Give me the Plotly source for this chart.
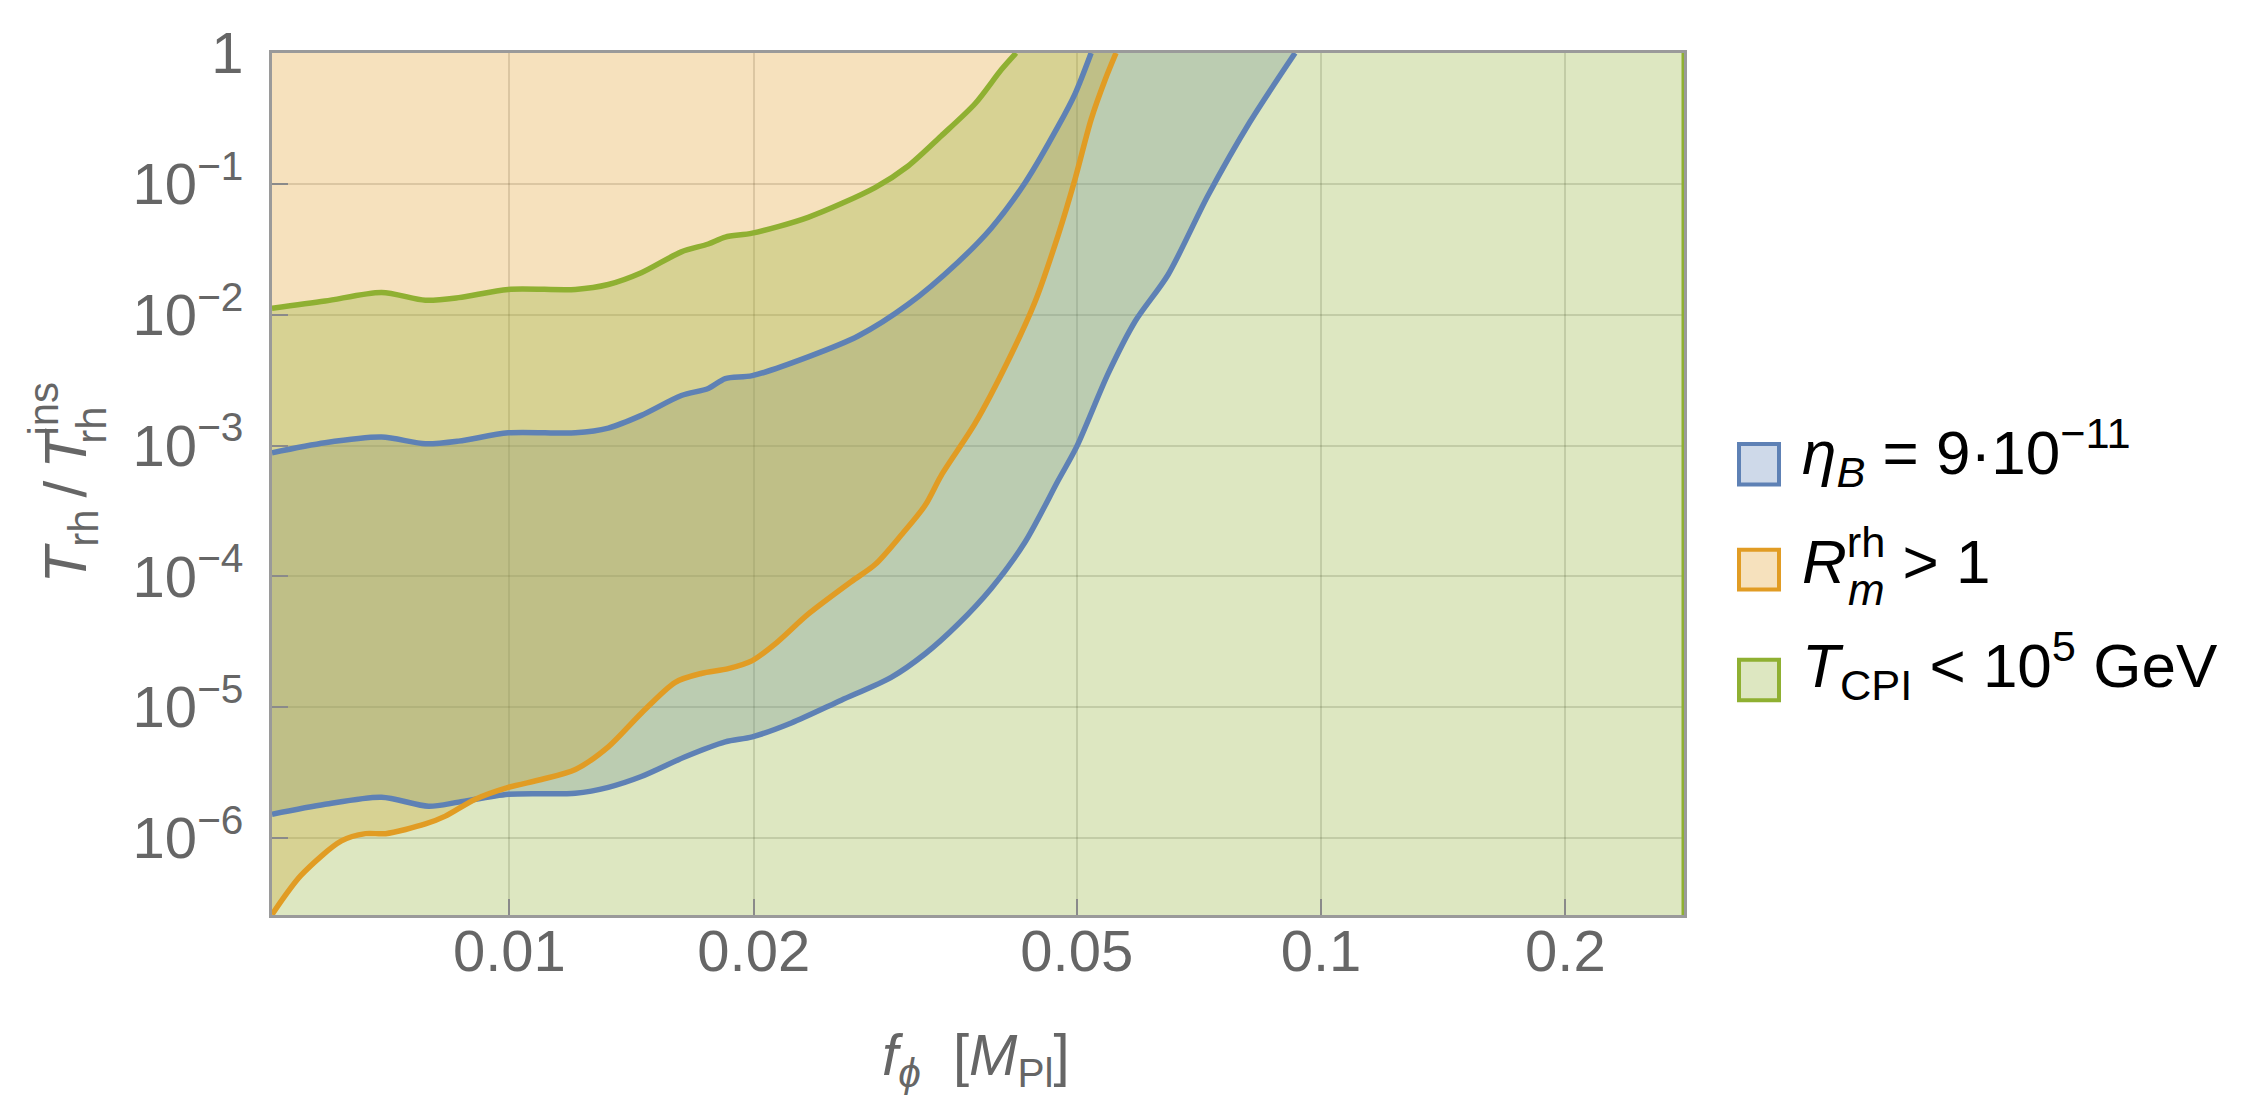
import math
import plotly.graph_objects as go

# ---------------- data ----------------
# T_CPI < 1e5 GeV boundary (green)
green_f = [0.0051, 0.00593, 0.00696, 0.00788, 0.00866, 0.00997, 0.01206, 0.01324, 0.01454,
           0.01629, 0.01758, 0.01845, 0.01992, 0.02334, 0.02822, 0.0310, 0.03404, 0.03749,
           0.04036, 0.0421]
green_T = [0.0112, 0.0127, 0.0148, 0.0129, 0.0135, 0.0156, 0.0156, 0.0170, 0.0209,
           0.0302, 0.0347, 0.0392, 0.0420, 0.0555, 0.0936, 0.137, 0.232, 0.411,
           0.744, 1.0]

# eta_B = 9e-11 band, upper edge (blue)
blue_up_f = [0.0051, 0.00593, 0.00696, 0.00788, 0.00866, 0.00997, 0.01206, 0.01324, 0.01454,
             0.01629, 0.01758, 0.01845, 0.01992, 0.02334, 0.0269, 0.0310, 0.03573, 0.03923,
             0.04319, 0.04744, 0.04978, 0.05209]
blue_up_T = [0.00088, 0.00105, 0.00116, 0.00103, 0.00108, 0.00125, 0.00125, 0.00136, 0.0017,
             0.00241, 0.00273, 0.00325, 0.00342, 0.00476, 0.00687, 0.0120, 0.0253, 0.0458,
             0.102, 0.276, 0.49, 1.0]

# eta_B = 9e-11 band, lower edge (blue)
blue_lo_f = [0.0051, 0.00593, 0.00696, 0.00795, 0.00866, 0.00997, 0.01206, 0.01324, 0.01454,
             0.01647, 0.01845, 0.01992, 0.02225, 0.02564, 0.02954, 0.03253, 0.03573, 0.03923,
             0.04319, 0.04744, 0.0500, 0.05466, 0.05902, 0.06479, 0.07256, 0.08175, 0.0929]
blue_lo_T = [1.52e-6, 1.81e-6, 2.05e-6, 1.75e-6, 1.88e-6, 2.16e-6, 2.20e-6, 2.44e-6, 2.95e-6,
             4.18e-6, 5.43e-6, 5.93e-6, 7.57e-6, 1.13e-5, 1.69e-5, 2.56e-5, 4.32e-5, 8.08e-5,
             1.83e-4, 5.4e-4, 9.8e-4, 3.54e-3, 8.9e-3, 0.0202, 0.0814, 0.298, 1.0]

# R_m^rh > 1 boundary (orange)
orange_f = [0.0051, 0.00554, 0.00621, 0.00665, 0.00704, 0.00788, 0.00834, 0.00908, 0.00997,
            0.01095, 0.01206, 0.01324, 0.01454, 0.01601, 0.01723, 0.01861, 0.01992, 0.02126,
            0.02334, 0.02637, 0.02822, 0.0304, 0.03253, 0.03404, 0.03749, 0.04116, 0.04444,
            0.04744, 0.04978, 0.05209, 0.0542, 0.0559]
orange_T = [2.6e-7, 5.2e-7, 9.5e-7, 1.08e-6, 1.08e-6, 1.28e-6, 1.47e-6, 1.98e-6, 2.44e-6,
            2.80e-6, 3.34e-6, 4.98e-6, 9.0e-6, 1.55e-5, 1.81e-5, 1.97e-5, 2.27e-5, 3.05e-5,
            5.14e-5, 9.1e-5, 1.23e-4, 2.07e-4, 3.49e-4, 5.89e-4, 1.48e-3, 4.44e-3, 0.0126,
            0.0406, 0.1095, 0.311, 0.625, 1.0]

x_tickvals = [0.01, 0.02, 0.05, 0.1, 0.2]
x_ticktext = ["0.01", "0.02", "0.05", "0.1", "0.2"]
y_tickvals = [1, 1e-1, 1e-2, 1e-3, 1e-4, 1e-5, 1e-6]
y_ticktext = ["1", "10<sup>−1</sup>", "10<sup>−2</sup>", "10<sup>−3</sup>",
              "10<sup>−4</sup>", "10<sup>−5</sup>", "10<sup>−6</sup>"]

legend_labels = ["<i>η</i><sub><i>B</i></sub> = 9·10<sup>−11</sup>",
                 "<i>R</i><sup>rh</sup> &gt; 1",
                 "<i>T</i><sub>CPI</sub> &lt; 10<sup>5</sup> GeV"]

# ---------------- layout constants ----------------
W, H = 2263, 1103
L, R, T, B = 264, 1676, 36, 907
XMIN, XMAX = 0.0051, 0.28
YMIN, YMAX = 2.58e-7, 1.0

BLUE, ORANGE, GREEN = "#5E81B5", "#E19C24", "#8FB032"
BLUE_F, ORANGE_F, GREEN_F = "rgba(94,129,181,0.3)", "rgba(225,156,36,0.3)", "rgba(143,176,50,0.3)"
FONT = "Liberation Sans, Arial, Helvetica, sans-serif"
GRAY = "#666666"


def px(X):
    return (X - L) / (R - L)


def py(Y):
    return (B - Y) / (B - T)


fig = go.Figure()

# fills: blue band, orange region (above curve), green region (below curve)
fig.add_trace(go.Scatter(x=blue_up_f + blue_lo_f[::-1], y=blue_up_T + blue_lo_T[::-1],
                         mode="lines", fill="toself", fillcolor=BLUE_F,
                         line=dict(width=0, color=BLUE), hoverinfo="skip"))
fig.add_trace(go.Scatter(x=orange_f + [XMIN], y=orange_T + [YMAX],
                         mode="lines", fill="toself", fillcolor=ORANGE_F,
                         line=dict(width=0, color=ORANGE), hoverinfo="skip"))
fig.add_trace(go.Scatter(x=green_f + [XMAX, XMAX, XMIN], y=green_T + [YMAX, YMIN, YMIN],
                         mode="lines", fill="toself", fillcolor=GREEN_F,
                         line=dict(width=0, color=GREEN), hoverinfo="skip"))

# boundary lines
LW = 5.5
for xs, ys, col in [(blue_up_f, blue_up_T, BLUE), (blue_lo_f, blue_lo_T, BLUE),
                    (orange_f, orange_T, ORANGE), (green_f, green_T, GREEN)]:
    fig.add_trace(go.Scatter(x=xs, y=ys, mode="lines", hoverinfo="skip",
                             line=dict(color=col, width=LW, shape="spline", smoothing=0.8)))
fig.add_trace(go.Scatter(x=[XMAX, XMAX], y=[YMIN, YMAX], mode="lines", hoverinfo="skip",
                         line=dict(color=GREEN, width=5), cliponaxis=False))

axis_common = dict(type="log", showline=True, linecolor="#9a9a9a", linewidth=3, mirror=True,
                   ticks="inside", ticklen=16, tickwidth=2, tickcolor="#8a8a8a",
                   showgrid=True, gridcolor="rgba(0,0,0,0.15)", gridwidth=2, zeroline=False,
                   tickfont=dict(family=FONT, size=58, color=GRAY))

fig.update_xaxes(range=[math.log10(XMIN), math.log10(XMAX)], tickvals=x_tickvals,
                 ticktext=x_ticktext, ticklabelstandoff=-17, **axis_common)
fig.update_yaxes(range=[math.log10(YMIN), math.log10(YMAX)], tickvals=y_tickvals,
                 ticktext=y_ticktext, ticklabelstandoff=14, **axis_common)

shapes = []
annotations = []
box_rows = [(431, 472, BLUE, BLUE_F), (538, 578, ORANGE, ORANGE_F), (649, 690, GREEN, GREEN_F)]
for (y0, y1, lc, fc) in box_rows:
    shapes.append(dict(type="rect", xref="paper", yref="paper",
                       x0=px(1731), x1=px(1771), y0=py(y1), y1=py(y0),
                       line=dict(color=lc, width=4), fillcolor=fc))

legend_y = [440, 545, 655]
for lab, yy in zip(legend_labels, legend_y):
    annotations.append(dict(text=lab, xref="paper", yref="paper", x=px(1792), y=py(yy),
                            xanchor="left", yanchor="middle", showarrow=False,
                            font=dict(family=FONT, size=62, color="black")))
# stacked subscript m under "rh"
annotations.append(dict(text="<i>m</i>", xref="paper", yref="paper", x=px(1838), y=py(578),
                        xanchor="left", yanchor="middle", showarrow=False,
                        font=dict(family=FONT, size=44, color="black")))

# x title
annotations.append(dict(text="<i>f</i><sub><i>ϕ</i></sub>  [<i>M</i><sub>Pl</sub>]",
                        xref="paper", yref="paper", x=px(968), y=py(1052),
                        xanchor="center", yanchor="middle", showarrow=False,
                        font=dict(family=FONT, size=58, color=GRAY)))
# y title (rotated), with stacked sub/superscript on second T
annotations.append(dict(text="<i>T</i><sub>rh</sub>\u2009/\u2009<i>T</i>", textangle=-90,
                        xref="paper", yref="paper", x=px(62), y=py(574),
                        xanchor="center", yanchor="bottom", showarrow=False,
                        font=dict(family=FONT, size=60, color=GRAY)))
annotations.append(dict(text="ins", textangle=-90, xref="paper", yref="paper",
                        x=px(36), y=py(366), xanchor="center", yanchor="top", showarrow=False,
                        font=dict(family=FONT, size=42, color=GRAY)))
annotations.append(dict(text="rh", textangle=-90, xref="paper", yref="paper",
                        x=px(84), y=py(392), xanchor="center", yanchor="top", showarrow=False,
                        font=dict(family=FONT, size=42, color=GRAY)))

fig.update_layout(width=W, height=H, autosize=False,
                  margin=dict(l=L, r=W - R, t=T, b=H - B, pad=0),
                  paper_bgcolor="white", plot_bgcolor="white",
                  showlegend=False, shapes=shapes, annotations=annotations)

fig.write_html("out.html")
